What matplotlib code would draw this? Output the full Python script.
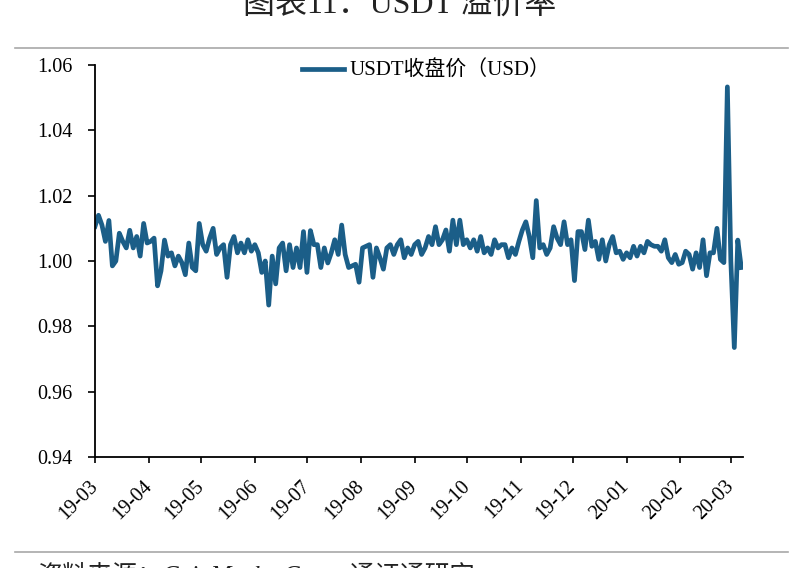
import matplotlib
matplotlib.use('Agg')
import matplotlib.pyplot as plt
import matplotlib.dates as mdates
from matplotlib.lines import Line2D
from matplotlib.ticker import FormatStrFormatter
import pandas as pd

# ---------------- data ----------------
start_date = '2019-03-01'
step = '2D'
usdt_close = [
    # 2019-03 .. 2019-07
    1.0106, 1.014, 1.011, 1.006, 1.0124, 0.9985, 1.000, 1.0085, 1.006, 1.004,
    1.0094, 1.004, 1.0075, 1.0015, 1.0115, 1.0055, 1.006, 1.007, 0.9924, 0.997,
    1.0064, 1.0015, 1.0025, 0.9985, 1.0015, 0.9995, 0.9958, 1.0055, 0.998, 0.997,
    1.0115, 1.005, 1.003, 1.007, 1.010, 1.002, 1.004, 1.005, 0.995, 1.005,
    1.0075, 1.0025, 1.0055, 1.0025, 1.0065, 1.003, 1.005, 1.0025, 0.9965, 1.000,
    0.9865, 1.0015, 0.993, 1.004, 1.0055, 0.997, 1.005, 0.998, 1.004, 0.998,
    1.009, 0.9965, 1.0093, 1.005, 1.005, 0.998, 1.004, 0.9994, 1.0025, 1.0065,
    # 2019-07 .. 2019-12
    1.002, 1.011, 1.002, 0.998, 0.9985, 0.999, 0.9935, 1.004, 1.0045, 1.005,
    0.995, 1.004, 1.001, 0.9975, 1.004, 1.005, 1.002, 1.005, 1.0065, 1.001,
    1.004, 1.002, 1.005, 1.006, 1.002, 1.004, 1.0075, 1.005, 1.0105, 1.005,
    1.0065, 1.0095, 1.003, 1.0125, 1.005, 1.0125, 1.005, 1.0065, 1.004, 1.0065,
    1.003, 1.0075, 1.0025, 1.004, 1.002, 1.0065, 1.004, 1.005, 1.005, 1.001,
    1.004, 1.002, 1.006, 1.0095, 1.012, 1.0075, 1.001, 1.0185, 1.004, 1.005,
    1.002, 1.004, 1.0105, 1.007, 1.005, 1.012, 1.005, 1.0065, 0.994, 1.009,
    # 2019-12 .. 2020-03
    1.009, 1.0035, 1.0125, 1.0045, 1.006, 1.0005, 1.0065, 1.000, 1.005, 1.0075,
    1.0025, 1.003, 1.0005, 1.0025, 1.001, 1.0045, 1.0015, 1.0045, 1.0025, 1.006,
    1.005, 1.0045, 1.0045, 1.003, 1.0065, 1.001, 0.9995, 1.002, 0.999, 0.9995,
    1.003, 1.002, 0.9975, 1.0025, 0.998, 1.0065, 0.9955, 1.0025, 1.0025, 1.010,
    1.0005, 0.9995, 1.0533, 1.000, 0.9735, 1.0064, 0.998,
]
y_ticks = [0.94, 0.96, 0.98, 1.00, 1.02, 1.04, 1.06]
x_start = '2019-03-01'
x_end = '2020-03-08'
title_text = '图表11：USDT 溢价率'
legend_label = 'USDT收盘价（USD）'
source_text = '资料来源：CoinMarketCap，通证通研究'

# ---------------- style ----------------
line_color = '#1B5E88'
fonts = ['Liberation Serif', 'Noto Sans CJK SC', 'DejaVu Sans']
plt.rcParams['font.family'] = fonts

dates = pd.date_range(start_date, periods=len(usdt_close), freq=step)

fig = plt.figure(figsize=(8, 5.68), dpi=100)
ax = fig.add_axes([95 / 800, 1 - 457 / 568, (743 - 95) / 800, (457 - 65) / 568])

ax.plot(dates, usdt_close, color=line_color, lw=3.4, solid_joinstyle='round',
        label=legend_label)

ax.set_ylim(y_ticks[0], y_ticks[-1])
ax.set_yticks(y_ticks)
ax.yaxis.set_major_formatter(FormatStrFormatter('%.2f'))
ax.set_xlim(pd.Timestamp(x_start), pd.Timestamp(x_end))
ax.xaxis.set_major_locator(mdates.MonthLocator())
ax.xaxis.set_major_formatter(mdates.DateFormatter('%y-%m'))

for s in ['top', 'right']:
    ax.spines[s].set_visible(False)
for s in ['left', 'bottom']:
    ax.spines[s].set_linewidth(1.3)
    ax.spines[s].set_color('black')

ax.tick_params(axis='y', direction='out', length=5, width=1.2, pad=11,
               labelsize=14.5)
ax.tick_params(axis='x', direction='out', length=4, width=1.2, pad=15,
               labelsize=14.5)
for lab in ax.get_xticklabels():
    lab.set_rotation(45)
    lab.set_ha('right')
    lab.set_va('center')
    lab.set_rotation_mode('anchor')

leg = ax.legend(loc='center left', bbox_to_anchor=(302 / 800, 1 - 71 / 568),
                bbox_transform=fig.transFigure, frameon=False, fontsize=15,
                borderpad=0, borderaxespad=0, handlelength=2.0,
                handletextpad=0.3)

# title (cut off at top) and separator lines
fig.text(0.5, 1 - 13 / 568, title_text, ha='center', va='baseline',
         fontsize=23, color='#222222')
fig.add_artist(Line2D([15 / 800, 788 / 800], [1 - 48 / 568, 1 - 48 / 568],
                      color='#A8A8A8', lw=1.2, transform=fig.transFigure))
fig.add_artist(Line2D([15 / 800, 788 / 800], [1 - 552 / 568, 1 - 552 / 568],
                      color='#A8A8A8', lw=1.2, transform=fig.transFigure))
fig.text(38 / 800, 1 - 562 / 568, source_text, ha='left', va='top',
         fontsize=18, style='italic', color='#222222')

fig.savefig('out.png', dpi=100)
